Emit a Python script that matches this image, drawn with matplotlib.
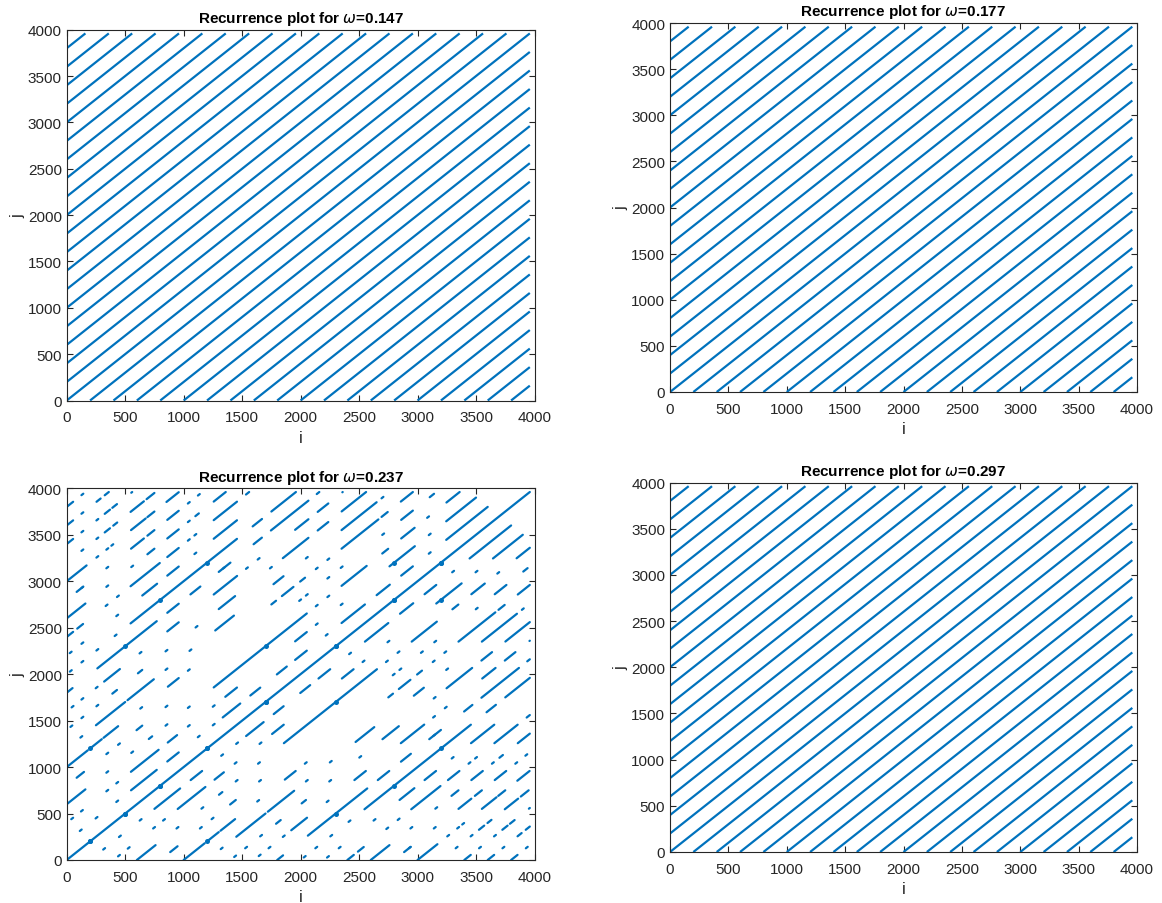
import matplotlib.pyplot as plt

plt.rcParams['font.family'] = ['Liberation Sans', 'DejaVu Sans']

N = 3960  # samples in each series
omegas = [0.147, 0.177, 0.237, 0.297]

# periodic responses recur every 200 samples
periodic_offsets = [0, 200, 400, 600, 800, 1000, 1200, 1400, 1600, 1800,
                    2000, 2200, 2400, 2600, 2800, 3000, 3200, 3400, 3600, 3800]

# omega = 0.237: recurrent stretches (i start, i end) on each diagonal j - i = offset
seg_237 = {
    0: [(0, 3960)],
    200: [(550, 770), (860, 958), (1334, 1484), (1570, 1655), (1797, 1882),
          (1953, 2053), (2350, 2550), (2650, 2763), (2860, 2960), (3245, 3600)],
    400: [(549, 786), (864, 944), (1356, 1456), (1953, 2053), (2760, 2977),
          (3245, 3500)],
    600: [(0, 160), (702, 731), (1257, 2053), (2350, 2565), (2698, 2749),
          (2860, 2975), (3247, 3360)],
    800: [(85, 148), (597, 646), (2860, 2960), (3104, 3141)],
    1000: [(0, 180), (195, 300), (315, 440), (865, 958), (1750, 1790),
           (1840, 1939), (1996, 2038), (2350, 2665), (2692, 2745), (2857, 2960)],
    1200: [(250, 500), (520, 745), (1270, 1430), (1768, 1854), (2350, 2650)],
    1400: [(390, 430), (609, 646), (1300, 1440), (1848, 2067), (2146, 2237),
           (2351, 2560)],
    1600: [(320, 455), (860, 958), (1257, 1457), (1953, 2067), (2146, 2237)],
    1800: [(0, 50), (262, 770), (860, 958), (1058, 1143), (1300, 1400),
           (1598, 1669), (1746, 2067), (2138, 2160)],
    2000: [(546, 1456), (1590, 1670), (1750, 1960)],
    2200: [(646, 773), (860, 958), (1257, 1456)],
    2400: [(0, 55), (90, 140), (546, 796), (860, 958), (1257, 1456), (1533, 1560)],
    2600: [(0, 160), (690, 750), (860, 958), (1100, 1130), (1257, 1370)],
    2800: [(85, 140), (550, 660), (690, 750), (860, 958)],
    3000: [(0, 170), (550, 675), (690, 750), (853, 958)],
    3200: [(325, 370), (398, 432), (546, 660), (683, 750)],
    3400: [(0, 55), (325, 370), (390, 430)],
    3600: [(0, 55), (255, 290), (325, 360)],
    3800: [(0, 55)],
}

# isolated recurrences (i position) on each diagonal
dot_237 = {
    200: [120, 255, 432, 1129, 1257, 2223, 3104],
    400: [47, 130, 347, 432, 1044, 1257, 2138, 2351, 3104],
    600: [347, 560, 853, 1044, 2138, 2237, 3090],
    800: [347, 447, 853, 1996, 2053, 2237, 2351, 2706],
    1000: [637, 1044, 2138, 2237],
    1200: [125, 853, 1058, 2053, 2700],
    1400: [40, 134, 262, 853, 1110, 1746],
    1600: [50, 134, 256, 631, 1541, 1641, 2365],
    1800: [1342],
    2000: [35, 134, 262, 418],
    2200: [34, 134, 432, 1100],
    2400: [341, 438, 1044, 1100],
    2600: [347, 560, 1044],
    2800: [134, 347, 1044, 1130],
    3000: [262, 347, 390],
    3200: [134, 262],
    3400: [134, 262, 560],
    3600: [134],
    3800: [134],
}

# dense clusters of recurrence points (i, j), j >= i
cluster_i = [200, 500, 800, 1200, 1700, 2300, 2800, 3200, 200, 500, 800, 1200, 1700, 2800]
cluster_j = [200, 500, 800, 1200, 1700, 2300, 2800, 3200, 1200, 2300, 2800, 3200, 2300, 3200]

blue = '#0072BD'
dark = '#262626'
axes_px = [(66.7, 30.7, 534.5, 401.5), (670, 24, 1137, 393),
           (66.7, 489.3, 534.5, 861), (670, 483.5, 1137, 853)]
W, H = 1162, 904

fig = plt.figure(figsize=(W / 100, H / 100), dpi=100)


def style(ax, omega):
    ax.set_xlim(0, 4000)
    ax.set_ylim(0, 4000)
    ax.set_xticks(range(0, 4001, 500))
    ax.set_yticks(range(0, 4001, 500))
    ax.tick_params(direction='in', top=True, right=True, labelsize=11,
                   colors=dark, length=4, width=0.8)
    ax.tick_params(axis='x', pad=7)
    for s in ax.spines.values():
        s.set_color(dark)
        s.set_linewidth(0.8)
    ax.set_xlabel('i', fontsize=12, color=dark, labelpad=4)
    ax.set_ylabel('j', fontsize=12, color=dark, labelpad=2)
    ax.set_title(r'Recurrence plot for $\omega$=%.3f' % omega,
                 fontsize=11, fontweight='bold', pad=5.5)


def draw_diag(ax, d, a, b, cap='butt'):
    # stretch on diagonal j = i + d and its mirror image
    b = min(b, N - d)
    ax.plot([a, b], [a + d, b + d], color=blue, lw=1.6, solid_capstyle=cap)
    if d:
        ax.plot([a + d, b + d], [a, b], color=blue, lw=1.6, solid_capstyle=cap)


for k, (x0, y0, x1, y1) in enumerate(axes_px):
    ax = fig.add_axes([x0 / W, 1 - y1 / H, (x1 - x0) / W, (y1 - y0) / H])
    om = omegas[k]
    if om == 0.237:
        for d, parts in seg_237.items():
            for a, b in parts:
                draw_diag(ax, d, a, b, cap='round')
        for d, spots in dot_237.items():
            for c in spots:
                draw_diag(ax, d, c - 8, c + 8, cap='round')
        ax.plot(cluster_i + cluster_j, cluster_j + cluster_i, 'o', color=blue,
                ms=3.6, mew=0)
    else:
        for d in periodic_offsets:
            draw_diag(ax, d, 0, N - d)
    style(ax, om)

fig.savefig('out.png', dpi=100)
